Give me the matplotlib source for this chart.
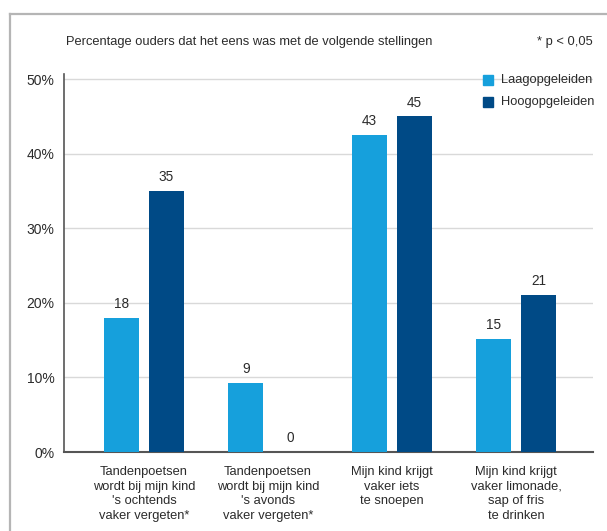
import matplotlib
matplotlib.use("Agg")
import matplotlib.pyplot as plt
from matplotlib.lines import Line2D
from matplotlib.patches import Rectangle

categories = [
    "Tandenpoetsen\nwordt bij mijn kind\n's ochtends\nvaker vergeten*",
    "Tandenpoetsen\nwordt bij mijn kind\n's avonds\nvaker vergeten*",
    "Mijn kind krijgt\nvaker iets\nte snoepen",
    "Mijn kind krijgt\nvaker limonade,\nsap of fris\nte drinken",
]
series_names = ["Laagopgeleiden", "Hoogopgeleiden"]
laag = [18.0, 9.3, 42.5, 15.1]
hoog = [35.0, 0.0, 45.0, 21.0]
laag_labels = ["18", "9", "43", "15"]
hoog_labels = ["35", "0", "45", "21"]
yticks = [0, 10, 20, 30, 40, 50]
ytick_labels = ["0%", "10%", "20%", "30%", "40%", "50%"]
title = "Percentage ouders dat het eens was met de volgende stellingen"
note = "* p < 0,05"

c_laag = "#16a0dc"
c_hoog = "#004a86"
txt = "#2b2b2b"
fs = 9.3

plt.rcParams['font.family'] = ['Liberation Sans', 'DejaVu Sans']

W, H = 607, 531
fig = plt.figure(figsize=(W/100, H/100), dpi=100)

# frame lines
fig.add_artist(Line2D([10/W, 10/W], [0, 1-14/H], transform=fig.transFigure, color="#b5b5b5", lw=1.6))
fig.add_artist(Line2D([10/W, 1], [1-14/H, 1-14/H], transform=fig.transFigure, color="#b5b5b5", lw=1.6))

ax = fig.add_axes([64/W, 1-452/H, (593-64)/W, (452-74)/H])
x = list(range(len(categories)))
off = 0.18
bw = 0.285
ax.bar([i - off for i in x], laag, width=bw, color=c_laag, zorder=3)
ax.bar([i + off for i in x], hoog, width=bw, color=c_hoog, zorder=3)
for i in x:
    ax.annotate(laag_labels[i], (i - off, laag[i]), xytext=(0, 5), textcoords="offset points",
                ha="center", va="bottom", fontsize=9.8, color=txt)
    ax.annotate(hoog_labels[i], (i + off, hoog[i]), xytext=(0, 5), textcoords="offset points",
                ha="center", va="bottom", fontsize=9.8, color=txt)

ax.set_xlim(-0.645, 3.62)
ax.set_ylim(0, 50.7)
ax.set_yticks(yticks)
ax.set_yticklabels(ytick_labels, fontsize=10, color=txt)
ax.set_xticks(x)
ax.set_xticklabels(categories, fontsize=fs, color=txt, linespacing=1.3, va="top")
ax.tick_params(axis="both", length=0)
ax.tick_params(axis="y", pad=7)
ax.tick_params(axis="x", pad=10)
ax.grid(axis="y", color="#d9d9d9", lw=1, zorder=0)
for s in ["top", "right"]:
    ax.spines[s].set_visible(False)
ax.spines["left"].set_color("#555555")
ax.spines["bottom"].set_color("#555555")
ax.spines["left"].set_linewidth(1.2)
ax.spines["bottom"].set_linewidth(1.5)

fig.text(66/W, 1-42/H, title, fontsize=fs, color=txt, ha="left", va="center")
fig.text(593/W, 1-42/H, note, fontsize=fs, color=txt, ha="right", va="center")

# legend
for j, (name, col) in enumerate(zip(series_names, [c_laag, c_hoog])):
    yc = 80 + j * 22
    fig.add_artist(Rectangle((483/W, 1-(yc+5)/H), 10/W, 10/H, transform=fig.transFigure, color=col))
    fig.text(501/W, 1-yc/H, name, fontsize=fs, color=txt, ha="left", va="center")

fig.savefig("out.png", dpi=100)
